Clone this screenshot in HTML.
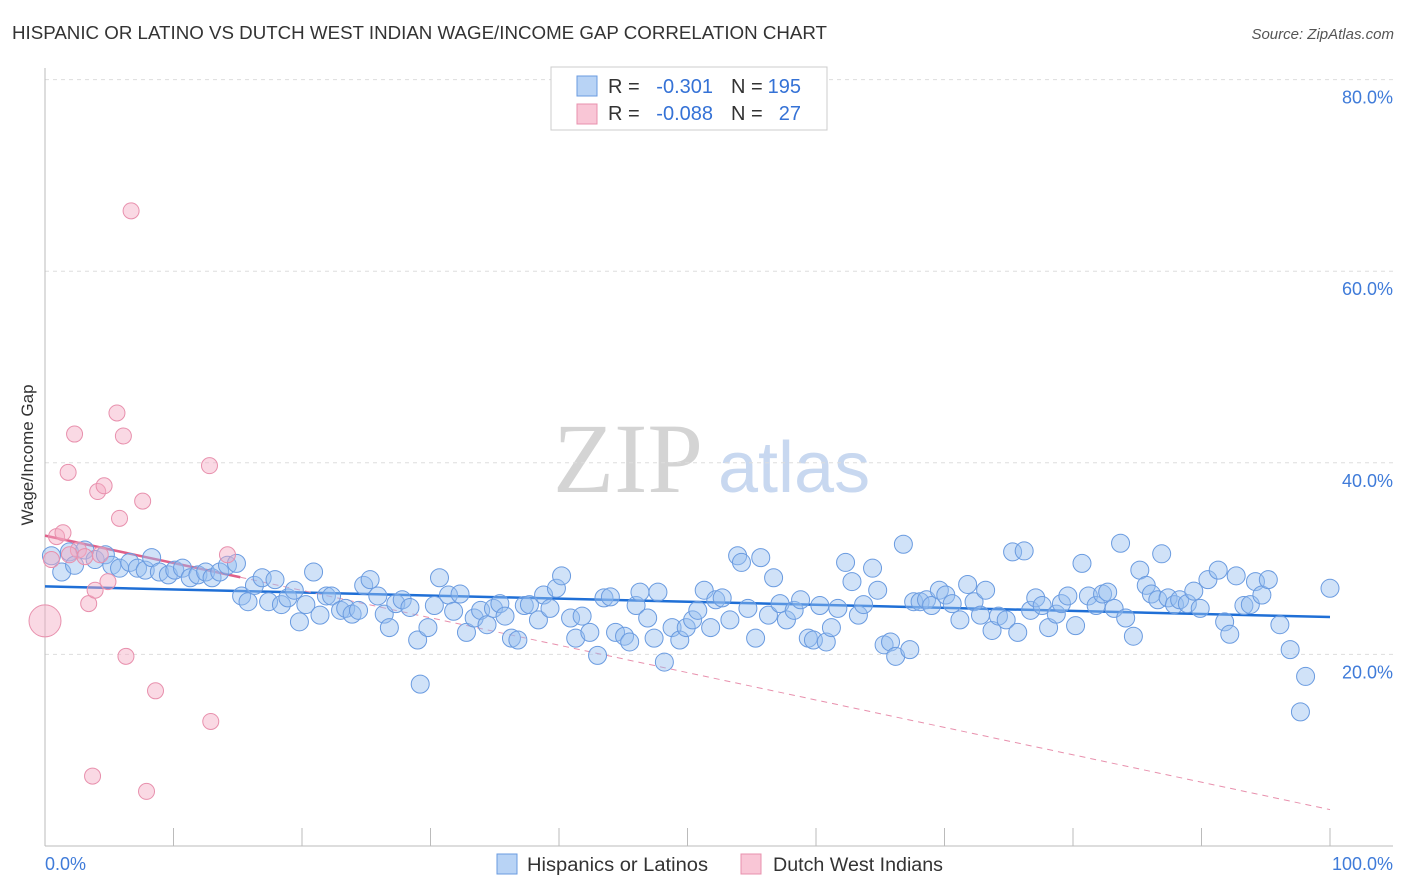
<!DOCTYPE html>
<html><head><meta charset="utf-8"><style>
body{margin:0;background:#fff;font-family:"Liberation Sans",sans-serif;}
svg{display:block}
</style></head><body>
<svg id="chart" width="1406" height="892" font-family="Liberation Sans, sans-serif">
<text x="12" y="39" font-size="18" fill="#333" textLength="815" lengthAdjust="spacingAndGlyphs">HISPANIC OR LATINO VS DUTCH WEST INDIAN WAGE/INCOME GAP CORRELATION CHART</text>
<text x="1394" y="39" font-size="15" fill="#555" font-style="italic" text-anchor="end">Source: ZipAtlas.com</text>
<text transform="translate(33,455) rotate(-90)" font-size="17" fill="#333" text-anchor="middle">Wage/Income Gap</text>
<g>
<text x="553" y="492" font-size="100" font-family="Liberation Serif, serif" fill="#d4d4d4">ZIP</text>
<text x="718" y="492" font-size="72" fill="#c8d8f0">atlas</text>
</g>
<g id="grid"></g>
<g id="axes"></g>
<g id="trend"></g>
<g id="pts"></g>
<g>
<rect x="551" y="67" width="276" height="63" fill="#fff" stroke="#ccc"/>
<rect x="577" y="76" width="20" height="20" fill="#b8d3f5" stroke="#6a9be0"/>
<rect x="577" y="104" width="20" height="20" fill="#f9c6d6" stroke="#e890ad"/>
<text x="608" y="93" font-size="20" fill="#333">R =</text>
<text x="713" y="93" font-size="20" fill="#3572d6" text-anchor="end">-0.301</text>
<text x="731" y="93" font-size="20" fill="#333">N =</text>
<text x="801" y="93" font-size="20" fill="#3572d6" text-anchor="end">195</text>
<text x="608" y="120" font-size="20" fill="#333">R =</text>
<text x="713" y="120" font-size="20" fill="#3572d6" text-anchor="end">-0.088</text>
<text x="731" y="120" font-size="20" fill="#333">N =</text>
<text x="801" y="120" font-size="20" fill="#3572d6" text-anchor="end">27</text>
</g>
<g>
<rect x="497" y="854" width="20" height="20" fill="#b8d3f5" stroke="#6a9be0"/>
<text x="527" y="871" font-size="19" fill="#333" textLength="181" lengthAdjust="spacingAndGlyphs">Hispanics or Latinos</text>
<rect x="741" y="854" width="20" height="20" fill="#f9c6d6" stroke="#e890ad"/>
<text x="773" y="871" font-size="19" fill="#333" textLength="170" lengthAdjust="spacingAndGlyphs">Dutch West Indians</text>
</g>
</svg>
<script>
const yTicks=[20,40,60,80];
const yTickLabels=["20.0%","40.0%","60.0%","80.0%"];
const xTickLabels=["0.0%","100.0%"];
const blueX=[0.5,1.3,1.9,2.3,3.1,3.9,4.7,5.2,5.8,6.6,7.2,7.8,8.3,8.9,9.6,10.1,10.7,11.3,11.9,12.5,13.0,13.6,14.2,14.9,15.3,15.8,16.3,16.9,17.4,17.9,18.4,18.9,19.4,19.8,20.3,20.9,21.4,21.9,22.3,23.0,23.4,23.9,24.4,24.8,25.3,25.9,26.4,26.8,27.3,27.8,28.4,29.0,29.2,29.8,30.3,30.7,31.4,31.8,32.3,32.8,33.4,33.9,34.4,34.9,35.4,35.8,36.3,36.8,37.3,37.7,38.4,38.8,39.3,39.8,40.2,40.9,41.3,41.8,42.4,43.0,43.5,44.0,44.4,45.1,45.5,46.0,46.3,46.9,47.4,47.7,48.2,48.8,49.4,49.9,50.4,50.8,51.3,51.8,52.2,52.7,53.3,53.9,54.2,54.7,55.3,55.7,56.3,56.7,57.2,57.7,58.3,58.8,59.4,59.8,60.3,60.8,61.2,61.7,62.3,62.8,63.3,63.7,64.4,64.8,65.3,65.8,66.2,66.8,67.3,67.6,68.1,68.6,69.0,69.6,70.1,70.6,71.2,71.8,72.3,72.8,73.2,73.7,74.2,74.8,75.3,75.7,76.2,76.7,77.1,77.6,78.1,78.7,79.1,79.6,80.2,80.7,81.2,81.8,82.3,82.7,83.2,83.7,84.1,84.7,85.2,85.7,86.1,86.6,86.9,87.4,87.9,88.3,88.9,89.4,89.9,90.5,91.3,91.8,92.2,92.7,93.3,93.8,94.2,94.7,95.2,96.1,96.9,97.7,98.1,100];
const blueY=[30.3,28.6,30.7,29.3,30.9,29.9,30.4,29.3,29.0,29.6,29.0,28.8,30.1,28.6,28.3,28.8,29.0,28.0,28.3,28.6,28.0,28.6,29.3,29.5,26.1,25.5,27.2,28.0,25.5,27.8,25.2,25.9,26.7,23.4,25.2,28.6,24.1,26.1,26.1,24.6,24.8,24.2,24.6,27.2,27.8,26.1,24.2,22.8,25.3,25.7,24.9,21.5,16.9,22.8,25.1,28.0,26.2,24.5,26.3,22.3,23.8,24.6,23.1,24.8,25.3,24.0,21.7,21.5,25.1,25.2,23.6,26.2,24.8,26.9,28.2,23.8,21.7,24.0,22.3,19.9,25.9,26.0,22.3,21.9,21.3,25.1,26.5,23.8,21.7,26.5,19.2,22.8,21.5,22.8,23.6,24.6,26.7,22.8,25.7,25.9,23.6,30.3,29.6,24.8,21.7,30.1,24.1,28.0,25.3,23.6,24.6,25.7,21.7,21.5,25.1,21.3,22.8,24.8,29.6,27.6,24.1,25.2,29.0,26.7,21.0,21.3,19.8,31.5,20.5,25.5,25.5,25.7,25.1,26.7,26.2,25.3,23.6,27.3,25.5,24.1,26.7,22.5,24.0,23.6,30.7,22.3,30.8,24.6,25.9,25.1,22.8,24.2,25.3,26.1,23.0,29.5,26.1,25.1,26.3,26.5,24.8,31.6,23.8,21.9,28.8,27.2,26.3,25.7,30.5,25.9,25.2,25.7,25.3,26.6,24.8,27.8,28.8,23.4,22.1,28.2,25.1,25.2,27.6,26.2,27.8,23.1,20.5,14.0,17.7,26.9];
const pinkX=[0,0.5,0.9,1.4,1.8,2.3,2.6,3.1,3.4,3.7,3.9,4.1,4.6,4.9,5.6,5.8,6.1,6.3,6.7,7.6,7.9,8.6,12.8,12.9,14.2,1.9,4.3];
const pinkY=[23.5,29.9,32.3,32.7,39.0,43.0,30.9,30.2,25.3,7.3,26.7,37.0,37.6,27.6,45.2,34.2,42.8,19.8,66.3,36.0,5.7,16.2,39.7,13.0,30.4,30.4,30.4];
const blueTrend=[27.1,23.9];
const pinkTrend=[32.4,3.8];
const pinkSolidEnd=15.2;

const NS="http://www.w3.org/2000/svg";
const X0=45,X1=1330,Y0=846,PXY=9.58;
const sx=v=>X0+(X1-X0)*v/100;
const sy=v=>Y0-v*PXY;
function mk(tag,attrs,parent){const e=document.createElementNS(NS,tag);for(const k in attrs)e.setAttribute(k,attrs[k]);parent.appendChild(e);return e;}
const grid=document.getElementById('grid'),axes=document.getElementById('axes'),pts=document.getElementById('pts'),trend=document.getElementById('trend');
yTicks.forEach((t,i)=>{
  const l=mk('line',{x1:X0,x2:1393,y1:sy(t),y2:sy(t),stroke:'#ddd','stroke-dasharray':'4,4'},grid);
  
  
  const tx=mk('text',{x:1393,y:sy(t)+24,'font-size':18,fill:'#3f7bd9','text-anchor':'end'},grid);
  tx.textContent=yTickLabels[i];
  
  
});
const la=mk('line',{x1:X0,x2:X0,y1:68,y2:Y0,stroke:'#bbb'},axes);


const lb=mk('line',{x1:X0,x2:1393,y1:Y0,y2:Y0,stroke:'#bbb'},axes);


for(let i=0;i<=10;i++){
  const t=mk('line',{x1:sx(i*10),x2:sx(i*10),y1:828,y2:Y0,stroke:'#bbb'},axes);
  
  
}
const xl0=mk('text',{x:45,y:870,'font-size':18,fill:'#3f7bd9'},axes);xl0.textContent=xTickLabels[0];


const xl1=mk('text',{x:1393,y:870,'font-size':18,fill:'#3f7bd9','text-anchor':'end'},axes);xl1.textContent=xTickLabels[1];


blueX.forEach((x,i)=>{
  const c=mk('circle',{cx:sx(x),cy:sy(blueY[i]),r:9,fill:'rgba(150,190,240,0.45)',stroke:'#6a9be0','stroke-width':1},pts);
  
  
});
pinkX.forEach((x,i)=>{
  const c=mk('circle',{cx:sx(x),cy:sy(pinkY[i]),r:i===0?16:8,fill:'rgba(245,170,195,0.45)',stroke:'#e890ad','stroke-width':1},pts);
  
  
});
const bt=mk('line',{x1:sx(0),y1:sy(blueTrend[0]),x2:sx(100),y2:sy(blueTrend[1]),stroke:'#1f6fd6','stroke-width':2.5},trend);


const pAt=x=>pinkTrend[0]+(pinkTrend[1]-pinkTrend[0])*x/100;
const pd=mk('line',{x1:sx(pinkSolidEnd),y1:sy(pAt(pinkSolidEnd)),x2:sx(100),y2:sy(pinkTrend[1]),stroke:'#e890ad','stroke-width':1,'stroke-dasharray':'6,5'},trend);


const ps=mk('line',{x1:sx(0),y1:sy(pinkTrend[0]),x2:sx(pinkSolidEnd),y2:sy(pAt(pinkSolidEnd)),stroke:'#e0608a','stroke-width':2.5},trend);


</script>
</body></html>
